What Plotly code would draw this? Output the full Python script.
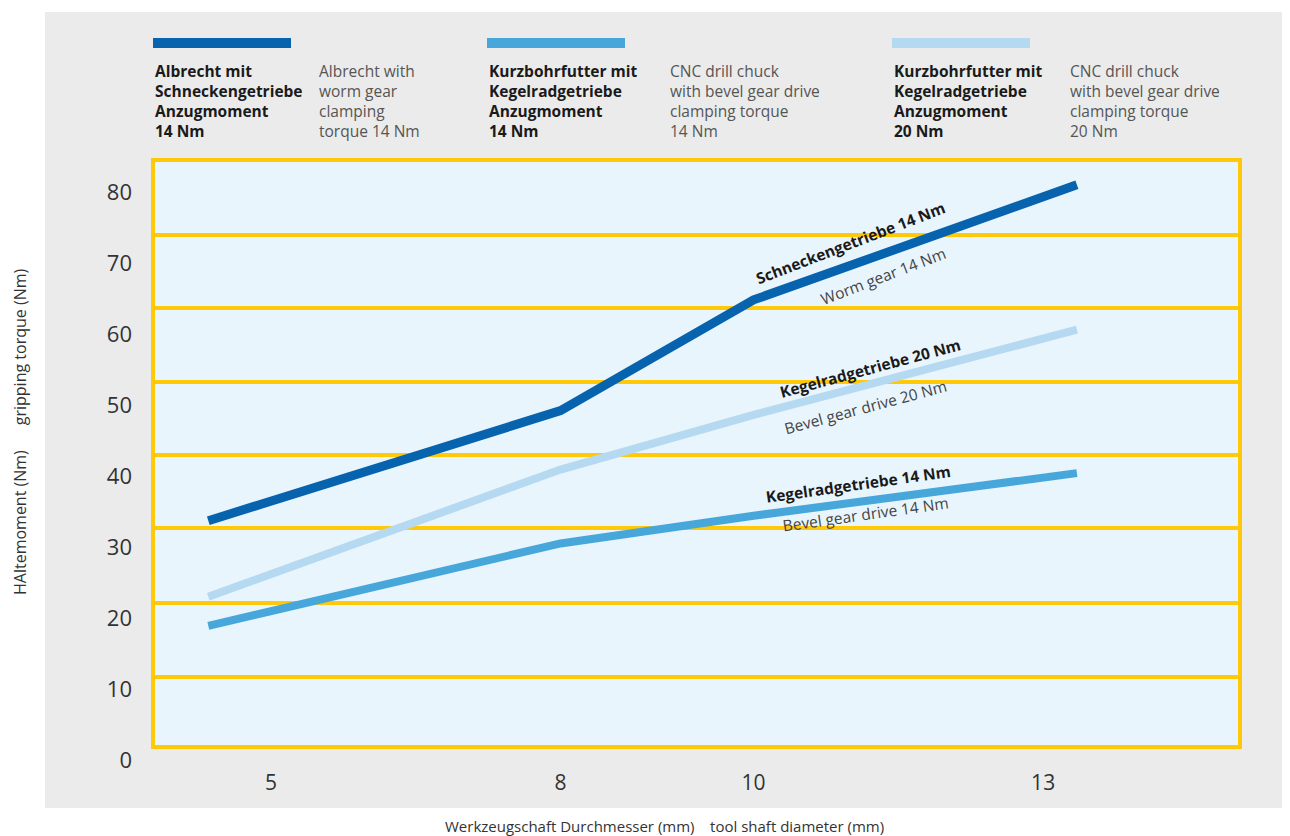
import plotly.graph_objects as go

# ---------------- data ----------------
diameter = [4.35, 8, 10, 13.35]
worm_14 = [33.7, 49.2, 64.8, 81.0]
bevel_20 = [23.0, 40.9, 48.6, 60.6]
bevel_14 = [18.9, 30.5, 34.4, 40.4]

x_ticks = [5, 8, 10, 13]
y_ticks = [0, 10, 20, 30, 40, 50, 60, 70, 80]

series = [
    ("Schneckengetriebe 14 Nm", worm_14, "#0763AE", 9),
    ("Kegelradgetriebe 14 Nm", bevel_14, "#47A7DB", 8),
    ("Kegelradgetriebe 20 Nm", bevel_20, "#B5D9F1", 8),
]

# ---------------- layout helpers ----------------
OFF = 8  # page body margin
W, H = 1290 - OFF, 836 - OFF
L, R, T = 153 - OFF, 50, 160 - OFF
B = 76
PW, PH = W - L - R, H - T - B


def px(xp):
    return (xp - OFF - L) / PW


def py(yp):
    return (H - B - (yp - OFF)) / PH


FONT = "Open Sans"
YELLOW = "#FFC907"

fig = go.Figure()
for name, vals, col, w in series:
    fig.add_trace(go.Scatter(x=diameter, y=vals, mode="lines", name=name,
                             line=dict(color=col, width=w), showlegend=False))

shapes = []
shapes.append(dict(type="rect", xref="paper", yref="paper", x0=px(45), x1=px(1288),
                   y0=py(808), y1=py(12), fillcolor="#EBEBEB", line=dict(width=0), layer="below"))
shapes.append(dict(type="rect", xref="paper", yref="paper", x0=px(153), x1=px(1240),
                   y0=py(747), y1=py(160), fillcolor="#E9F5FD", line=dict(width=0), layer="below"))
for yp in [235, 308, 382, 455, 528, 603, 677]:
    shapes.append(dict(type="line", xref="paper", yref="paper", x0=px(153), x1=px(1240),
                       y0=py(yp), y1=py(yp), line=dict(color=YELLOW, width=4), layer="below"))
shapes.append(dict(type="rect", xref="paper", yref="paper", x0=px(153), x1=px(1240),
                   y0=py(747), y1=py(160), line=dict(color=YELLOW, width=4), layer="below"))

leg_x = [153, 487, 892]
leg_cols = [s[2] for s in series]
for lx, col in zip(leg_x, leg_cols):
    shapes.append(dict(type="rect", xref="paper", yref="paper", x0=px(lx), x1=px(lx + 138),
                       y0=py(48), y1=py(38), fillcolor=col, line=dict(width=0)))

annotations = []
leg_de = ["Albrecht mit<br>Schneckengetriebe<br>Anzugmoment<br>14 Nm",
          "Kurzbohrfutter mit<br>Kegelradgetriebe<br>Anzugmoment<br>14 Nm",
          "Kurzbohrfutter mit<br>Kegelradgetriebe<br>Anzugmoment<br>20 Nm"]
leg_en = ["Albrecht with<br>worm gear<br>clamping<br>torque 14 Nm",
          "CNC drill chuck<br>with bevel gear drive<br>clamping torque<br>14 Nm",
          "CNC drill chuck<br>with bevel gear drive<br>clamping torque<br>20 Nm"]
en_x = [317, 668, 1068]
for lx, ex, de, en in zip(leg_x, en_x, leg_de, leg_en):
    annotations.append(dict(xref="paper", yref="paper", x=px(lx), y=py(58), xanchor="left",
                            yanchor="top", align="left", showarrow=False,
                            text="<b>" + de + "</b>",
                            font=dict(family=FONT, size=15.5, color="#1a1a1a")))
    annotations.append(dict(xref="paper", yref="paper", x=px(ex), y=py(58), xanchor="left",
                            yanchor="top", align="left", showarrow=False, text=en,
                            font=dict(family=FONT, size=15.5, color="#555555")))

line_labels = [
    ("<b>Schneckengetriebe 14 Nm</b>", 11.0, 72.8, -21, "#1a1a1a"),
    ("Worm gear 14 Nm", 11.34, 68.2, -21, "#444444"),
    ("<b>Kegelradgetriebe 20 Nm</b>", 11.21, 55.2, -15, "#1a1a1a"),
    ("Bevel gear drive 20 Nm", 11.16, 49.7, -15, "#444444"),
    ("<b>Kegelradgetriebe 14 Nm</b>", 11.08, 38.9, -8, "#1a1a1a"),
    ("Bevel gear drive 14 Nm", 11.16, 34.6, -8, "#444444"),
]
for txt, lx, ly, ang, col in line_labels:
    annotations.append(dict(x=lx, y=ly, xref="x", yref="y", text=txt, textangle=ang,
                            showarrow=False, font=dict(family=FONT, size=15.5, color=col)))

annotations.append(dict(xref="paper", yref="paper", x=px(664), y=py(826), showarrow=False,
                        xanchor="center", yanchor="middle",
                        text="Werkzeugschaft Durchmesser (mm)&nbsp;&nbsp;&nbsp; tool shaft diameter (mm)",
                        font=dict(family=FONT, size=15, color="#333333")))
annotations.append(dict(xref="paper", yref="paper", x=px(20), y=py(432), showarrow=False,
                        xanchor="center", yanchor="middle", textangle=-90,
                        text="HAltemoment (Nm)&nbsp;&nbsp;&nbsp;&nbsp;&nbsp; gripping torque (Nm)",
                        font=dict(family=FONT, size=16, color="#333333")))

fig.update_layout(
    width=W, height=H,
    margin=dict(l=L, r=R, t=T, b=B),
    paper_bgcolor="white",
    plot_bgcolor="rgba(0,0,0,0)",
    shapes=shapes,
    annotations=annotations,
    xaxis=dict(range=[3.777, 15.04], tickvals=x_ticks, showgrid=False, zeroline=False,
               showline=False, ticks="", ticklabelstandoff=8,
               tickfont=dict(family=FONT, size=21, color="#333333")),
    yaxis=dict(range=[0, 84.5], tickvals=y_ticks, showgrid=False, zeroline=False,
               showline=False, ticks="", ticklabelstandoff=20,
               tickfont=dict(family=FONT, size=22, color="#333333")),
)

fig.write_html("out.html")
